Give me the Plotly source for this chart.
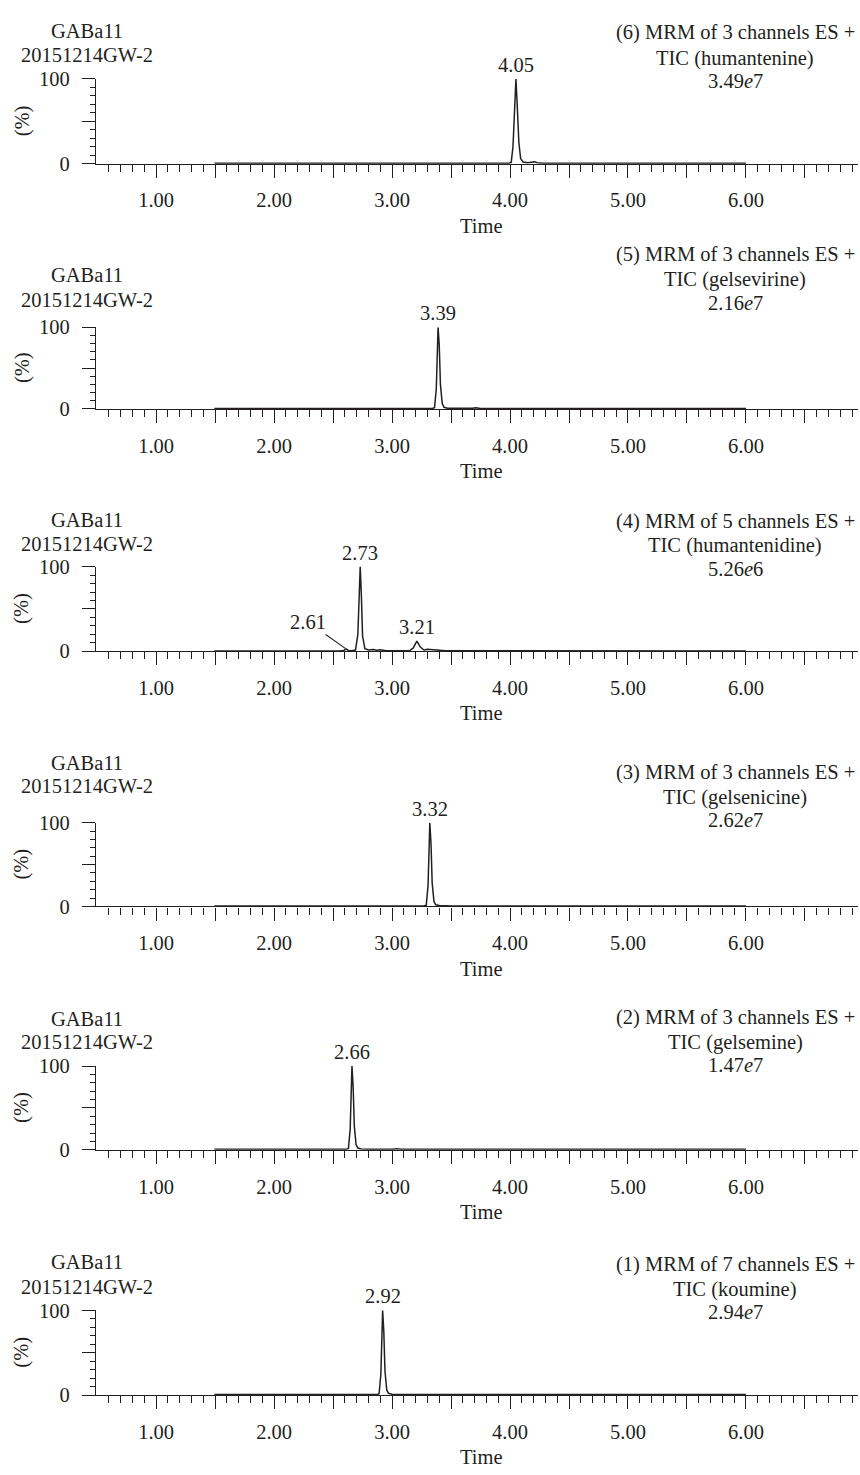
import plotly.graph_objects as go

W, H = 860, 1475

# ---------------- data ----------------
sample_name = "GABa11"
sample_id = "20151214GW-2"

channel_titles = ["(6) MRM of 3 channels ES +", "(5) MRM of 3 channels ES +",
                  "(4) MRM of 5 channels ES +", "(3) MRM of 3 channels ES +",
                  "(2) MRM of 3 channels ES +", "(1) MRM of 7 channels ES +"]
compounds = ["TIC (humantenine)", "TIC (gelsevirine)", "TIC (humantenidine)",
             "TIC (gelsenicine)", "TIC (gelsemine)", "TIC (koumine)"]
intensities = ["3.49<i>e</i>7", "2.16<i>e</i>7", "5.26<i>e</i>6",
               "2.62<i>e</i>7", "1.47<i>e</i>7", "2.94<i>e</i>7"]

t_humantenine = [1.50, 1.50, 3.99, 4.01, 4.025, 4.04, 4.05, 4.06, 4.075, 4.09, 4.11, 4.15, 4.19, 4.21, 4.23, 4.28, 6.00]
i_humantenine = [0.0, 0.5, 0.5, 1.5, 20, 75, 100, 72, 25, 6, 2.0, 1.2, 1.5, 2.2, 1.2, 0.6, 0.5]

t_gelsevirine = [1.50, 1.50, 3.34, 3.36, 3.375, 3.385, 3.39, 3.40, 3.41, 3.425, 3.44, 3.47, 3.55, 3.68, 3.71, 3.74, 3.85, 6.00]
i_gelsevirine = [0.0, 0.5, 0.5, 1.5, 25, 80, 100, 78, 30, 7, 2, 1, 0.7, 0.8, 1.6, 0.8, 0.5, 0.5]

t_humantenidine = [1.50, 1.50, 2.55, 2.59, 2.61, 2.63, 2.66, 2.69, 2.71, 2.72, 2.73, 2.74, 2.75, 2.77, 2.80,
                   2.84, 2.87, 2.90, 2.95, 3.05, 3.15, 3.18, 3.21, 3.24, 3.27, 3.30, 3.33, 3.37, 3.45, 4.00,
                   4.90, 5.00, 5.10, 6.00]
i_humantenidine = [0.0, 0.5, 0.5, 1.0, 2.8, 1.0, 0.6, 1.5, 20, 70, 100, 65, 18, 3, 1.5,
                   2.0, 1.2, 1.8, 0.8, 0.7, 0.9, 4, 12, 5, 1.5, 2.5, 2.2, 1.0, 0.7, 0.6,
                   0.6, 1.2, 0.6, 0.5]

t_gelsenicine = [1.50, 1.50, 3.27, 3.29, 3.305, 3.315, 3.32, 3.33, 3.34, 3.355, 3.37, 3.40, 3.45, 3.50, 6.00]
i_gelsenicine = [0.0, 0.5, 0.5, 1.5, 25, 80, 100, 75, 28, 6, 2, 1, 0.8, 0.5, 0.5]

t_gelsemine = [1.50, 1.50, 2.61, 2.63, 2.645, 2.655, 2.66, 2.67, 2.68, 2.695, 2.71, 2.74, 2.80, 3.00, 3.04,
               3.08, 3.15, 3.19, 3.23, 3.30, 6.00]
i_gelsemine = [0.0, 0.5, 0.5, 1.5, 25, 80, 100, 75, 28, 6, 2, 1, 0.7, 0.6, 1.2,
               0.6, 0.7, 1.3, 0.7, 0.5, 0.5]

t_koumine = [1.50, 1.50, 2.87, 2.89, 2.905, 2.915, 2.92, 2.93, 2.94, 2.955, 2.97, 3.00, 3.05, 3.10, 6.00]
i_koumine = [0.0, 0.5, 0.5, 1.5, 25, 80, 100, 75, 28, 6, 2, 1, 0.8, 0.5, 0.5]

series_t = [t_humantenine, t_gelsevirine, t_humantenidine, t_gelsenicine, t_gelsemine, t_koumine]
series_i = [i_humantenine, i_gelsevirine, i_humantenidine, i_gelsenicine, i_gelsemine, i_koumine]

# peak labels: (time, label, peak height)
peak_labels = [
    [(4.05, "4.05", 100)],
    [(3.39, "3.39", 100)],
    [(2.73, "2.73", 100), (3.21, "3.21", 12)],
    [(3.32, "3.32", 100)],
    [(2.66, "2.66", 100)],
    [(2.92, "2.92", 100)],
]
arrow_label = (2.61, "2.61", 2.8)   # panel 3, label with leader line

x_major = [1.0, 1.5, 2.0, 2.5, 3.0, 3.5, 4.0, 4.5, 5.0, 5.5, 6.0, 6.5]
x_major_text = ["1.00", "", "2.00", "", "3.00", "", "4.00", "", "5.00", "", "6.00", ""]
y_major = [0, 50, 100]
y_major_text = ["0", "", "100"]

# ---------------- layout geometry (pixels) ----------------
FONT = "Liberation Serif"
FS = 20.5
INK = "#231f20"
x_left_px, x_right_px = 96, 858
x_range = [0.49, 6.95]
panel_px = [(69, 155), (321, 404), (564, 650), (824, 909), (1071, 1156), (1319, 1405)]
left_text_y = [(20, 45), (268, 293), (517, 541), (763, 787), (1023, 1047), (1270, 1295)]
right_text_y = [(22, 48), (247, 273), (518, 543), (773, 798), (1022, 1047), (1272, 1298)]
third_gap = 23


def px_x(p):
    return p / W


def px_y(p):
    return 1 - p / H


x_minor = [round(0.6 + 0.1 * k, 2) for k in range(64)]
x_minor = [v for v in x_minor if abs(v * 2 - round(v * 2)) > 1e-6 and v <= 6.9]
y_minor = [10, 20, 30, 40, 60, 70, 80, 90]

fig = go.Figure()
layout = dict(
    width=W, height=H, margin=dict(l=0, r=0, t=0, b=0),
    paper_bgcolor="white", plot_bgcolor="white", showlegend=False,
    font=dict(family=FONT, size=FS, color=INK),
)
annotations = []

for k in range(6):
    n = "" if k == 0 else str(k + 1)
    top, bot = panel_px[k]
    fig.add_trace(go.Scatter(x=series_t[k], y=series_i[k], mode="lines",
                             line=dict(color=INK, width=1.5), xaxis="x" + n, yaxis="y" + n,
                             hoverinfo="skip"))
    layout["xaxis" + n] = dict(
        domain=[px_x(x_left_px), px_x(x_right_px)], range=x_range, anchor="y" + n,
        showline=True, linecolor=INK, linewidth=1.3, showgrid=False, zeroline=False,
        tickmode="array", tickvals=x_major, ticktext=x_major_text,
        ticks="outside", ticklen=13, tickwidth=1.3, tickcolor=INK,
        minor=dict(tickmode="array", tickvals=x_minor, ticks="outside", ticklen=7,
                   tickwidth=1.2, tickcolor=INK, showgrid=False),
        tickfont=dict(family=FONT, size=FS, color=INK), ticklabelstandoff=5,
        fixedrange=True,
    )
    layout["yaxis" + n] = dict(
        domain=[px_y(bot), px_y(top)], range=[0, 100], anchor="x" + n,
        showline=True, linecolor=INK, linewidth=1.3, showgrid=False, zeroline=False,
        tickmode="array", tickvals=y_major, ticktext=y_major_text,
        ticks="outside", ticklen=13, tickwidth=1.3, tickcolor=INK,
        minor=dict(tickmode="array", tickvals=y_minor, ticks="outside", ticklen=4.5,
                   tickwidth=1.2, tickcolor=INK, showgrid=False),
        tickfont=dict(family=FONT, size=FS, color=INK), ticklabelstandoff=8,
        fixedrange=True,
    )
    # headers
    annotations.append(dict(x=px_x(87), y=px_y(left_text_y[k][0]), xref="paper", yref="paper",
                            text=sample_name, showarrow=False, xanchor="center", yanchor="middle"))
    annotations.append(dict(x=px_x(87), y=px_y(left_text_y[k][1]), xref="paper", yref="paper",
                            text=sample_id, showarrow=False, xanchor="center", yanchor="middle"))
    y1, y2 = right_text_y[k]
    for line_text, yy in zip([channel_titles[k], compounds[k], intensities[k]], [y1, y2, y2 + third_gap]):
        annotations.append(dict(x=px_x(735), y=px_y(yy), xref="paper", yref="paper",
                                text=line_text, showarrow=False, xanchor="center", yanchor="middle"))
    # (%) label
    annotations.append(dict(x=px_x(22), y=px_y((top + bot) / 2), xref="paper", yref="paper",
                            text="(%)", textangle=-90, showarrow=False,
                            xanchor="center", yanchor="middle"))
    # Time
    annotations.append(dict(x=px_x(481), y=px_y(bot + 63), xref="paper", yref="paper",
                            text="Time", showarrow=False, xanchor="center", yanchor="middle"))
    # peak labels
    for (pt, lab, ph) in peak_labels[k]:
        annotations.append(dict(x=pt, y=ph, xref="x" + n, yref="y" + n, text=lab,
                                showarrow=False, xanchor="center", yanchor="middle", yshift=14))
    if k == 2:
        pt, lab, ph = arrow_label
        annotations.append(dict(x=pt, y=ph, xref="x" + n, yref="y" + n, text=lab,
                                showarrow=True, arrowhead=0, arrowwidth=1.1, arrowcolor=INK,
                                ax=-38, ay=-27, standoff=1, startstandoff=0,
                                xanchor="center", yanchor="middle"))

layout["annotations"] = annotations
fig.update_layout(**layout)
fig.write_html("out.html", config={"displayModeBar": False},
               post_script="document.body.style.margin='0px';")
